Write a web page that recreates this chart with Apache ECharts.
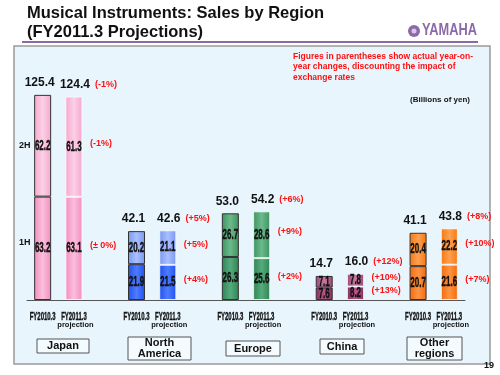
<!DOCTYPE html>
<html>
<head>
<meta charset="utf-8">
<script src="https://cdn.jsdelivr.net/npm/echarts@6/dist/echarts.min.js"></script>
<style>
  html, body { margin: 0; padding: 0; background: #fff; }
  #container { width: 500px; height: 375px; }
</style>
</head>
<body>
<div id="container"></div>
<script>
// categories: 5 regions x (FY2010.3, FY2011.3 projection) with empty gaps between
var categories = ['FY2010.3', 'FY2011.3', '', 'FY2010.3', 'FY2011.3', '', 'FY2010.3', 'FY2011.3', '',
                  'FY2010.3', 'FY2011.3', '', 'FY2010.3', 'FY2011.3'];
var regions = ['Japan', 'North\nAmerica', 'Europe', 'China', 'Other\nregions'];

// billions of yen
var firstHalf  = [63.2, 63.1, '-', 21.9, 21.5, '-', 26.3, 25.6, '-', 7.6, 8.2, '-', 20.7, 21.6];
var secondHalf = [62.2, 61.3, '-', 20.2, 21.1, '-', 26.7, 28.6, '-', 7.1, 7.8, '-', 20.4, 22.2];
var totals     = [125.4, 124.4, '-', 42.1, 42.6, '-', 53.0, 54.2, '-', 14.7, 16.0, '-', 41.1, 43.8];

// year-on-year changes (projection bars only)
var pctTotal = ['', '(-1%)', '', '', '(+5%)', '', '', '(+6%)', '', '', '(+12%)', '', '', '(+8%)'];
var pct2H    = ['', '(-1%)', '', '', '(+5%)', '', '', '(+9%)', '', '', '(+10%)', '', '', '(+10%)'];
var pct1H    = ['', '(\u00b1 0%)', '', '', '(+4%)', '', '', '(+2%)', '', '', '(+13%)', '', '', '(+7%)'];

// colours per region: [1H edge, 1H centre, 2H edge, 2H centre]
var regionColors = [
  ['#f38cc0', '#fbbfdc', '#f6a7cf', '#fcd0e6'],
  ['#2350ee', '#4d7cff', '#7b98f0', '#a9bfff'],
  ['#2f8454', '#55ab7b', '#3f935f', '#6bba8c'],
  ['#8a2f5e', '#b25786', '#a2487a', '#c57aa0'],
  ['#f26a0c', '#ff9442', '#f5780f', '#ffa050']
];

var sans = "'Liberation Sans', Arial, sans-serif";

function grad(c1, c2) {
  return new echarts.graphic.LinearGradient(0, 0, 1, 0, [
    { offset: 0, color: c1 }, { offset: 0.5, color: c2 }, { offset: 1, color: c1 }
  ]);
}

function segData(arr, half) {
  return arr.map(function (v, i) {
    if (v === '-') return '-';
    var c = regionColors[Math.floor(i / 3)];
    var proj = i % 3 === 1;
    return {
      value: v,
      itemStyle: {
        color: half === 1 ? grad(c[0], c[1]) : grad(c[2], c[3]),
        borderColor: proj ? 'rgba(255,255,255,0.7)' : '#333',
        borderWidth: 1
      }
    };
  });
}

var ctx = document.createElement('canvas').getContext('2d');
var totalFont = 'bold 12px ' + sans;
ctx.font = totalFont;

// condensed text, the way the slide draws it
function narrowText(x, y, text, size, sx) {
  return {
    type: 'text', x: x, y: y, scaleX: sx,
    style: { text: text, font: 'bold ' + size + 'px ' + sans, fill: '#111', align: 'center', verticalAlign: 'middle',
             stroke: '#111', lineWidth: 0.4 }
  };
}
function redText(x, y, text) {
  return {
    type: 'text', x: x, y: y,
    style: { text: text, font: 'bold 9px ' + sans, fill: '#ff1010', align: 'left', verticalAlign: 'middle' }
  };
}

function renderLabels(params, api) {
  var i = api.value(0);
  var proj = i % 3 === 1;
  var h1 = firstHalf[i], h2 = secondHalf[i], tot = totals[i];
  var base = api.coord([i, 0]);
  var p1 = api.coord([i, h1 / 2]);
  var p2 = api.coord([i, h1 + h2 / 2]);
  var pt = api.coord([i, tot]);
  var kids = [
    narrowText(p1[0], p1[1], h1.toFixed(1), 14, 0.57),
    narrowText(p2[0], p2[1], h2.toFixed(1), 14, 0.57),
    { type: 'text', x: pt[0] + (proj ? 1 : -3), y: pt[1] - 12,
      style: { text: tot.toFixed(1), font: totalFont, fill: '#111', align: 'center', verticalAlign: 'middle' } },
    narrowText(base[0], base[1] + 17, categories[i], 11.5, 0.52)
  ];
  if (proj) {
    kids.push({ type: 'text', x: base[0] + 1.5, y: base[1] + 25,
      style: { text: 'projection', font: 'bold 7.5px ' + sans, fill: '#111', align: 'center', verticalAlign: 'middle' } });
    var w = ctx.measureText(tot.toFixed(1)).width;
    kids.push(redText(pt[0] + 1 + w / 2 + 5, pt[1] - 12, pctTotal[i]));
    kids.push(redText(p2[0] + 16, p2[1] - 3, pct2H[i]));
    kids.push(redText(p1[0] + 16, p1[1] - 3, pct1H[i]));
  }
  return { type: 'group', children: kids };
}

var dom = document.getElementById('container');
var myChart = echarts.init(dom);

var graphics = [
  // panel
  { type: 'rect', z: -10, shape: { x: 14, y: 46, width: 476, height: 318 },
    style: { fill: '#e8f5fd', stroke: '#9a9a9a', lineWidth: 1.5 } },
  { type: 'text', left: 27, top: 5, style: { text: 'Musical Instruments: Sales by Region', font: 'bold 16.5px ' + sans, fill: '#111' } },
  { type: 'text', left: 27, top: 24, style: { text: '(FY2011.3 Projections)', font: 'bold 16.5px ' + sans, fill: '#111' } },
  { type: 'line', shape: { x1: 22, y1: 42, x2: 478, y2: 42 }, style: { stroke: '#8a6aa3', lineWidth: 2 } },
  { type: 'circle', shape: { cx: 414, cy: 31, r: 6 }, style: { fill: '#8a6aa8' } },
  { type: 'circle', shape: { cx: 414, cy: 31, r: 2.5 }, style: { fill: '#d8c8e4' } },
  { type: 'text', x: 422, y: 23, scaleX: 0.8, style: { text: 'YAMAHA', font: 'bold 16px ' + sans, fill: '#8a6aa8' } },
  { type: 'text', left: 293, top: 51, style: {
      text: 'Figures in parentheses show actual year-on-\nyear changes, discounting the impact of\nexchange rates',
      font: 'bold 8.5px ' + sans, fill: '#ff1010', lineHeight: 10.5 } },
  { type: 'text', left: 410, top: 96, style: { text: '(Billions of yen)', font: 'bold 8px ' + sans, fill: '#111' } },
  { type: 'text', left: 19, top: 141, style: { text: '2H', font: 'bold 9px ' + sans, fill: '#111' } },
  { type: 'text', left: 19, top: 238, style: { text: '1H', font: 'bold 9px ' + sans, fill: '#111' } },
  { type: 'text', left: 484, top: 361, style: { text: '19', font: 'bold 9px ' + sans, fill: '#111' } }
];

// region name boxes
var boxes = [[37, 339, 52, 14], [128, 337, 63, 23], [226, 341, 54, 15], [320, 339, 44, 15], [407, 337, 55, 23]];
regions.forEach(function (r, k) {
  var b = boxes[k];
  graphics.push({ type: 'rect', shape: { x: b[0], y: b[1], width: b[2], height: b[3] },
    style: { fill: '#f4fbff', stroke: '#555', lineWidth: 1 } });
  graphics.push({ type: 'text', x: b[0] + b[2] / 2, y: b[1] + b[3] / 2,
    style: { text: r, font: 'bold 11px ' + sans, fill: '#111', align: 'center', verticalAlign: 'middle', lineHeight: 11 } });
});

option = {
  animation: false,
  grid: { left: 27, right: 35, top: 71, bottom: 75 },
  xAxis: {
    type: 'category',
    data: categories,
    axisLine: { lineStyle: { color: '#555', width: 1 } },
    axisTick: { inside: true, length: 3, lineStyle: { color: '#555' } },
    axisLabel: { show: false }
  },
  yAxis: { type: 'value', min: 0, max: 140, show: false, splitLine: { show: false } },
  graphic: graphics,
  series: [
    { name: '1H', type: 'bar', stack: 'sales', barWidth: 17, data: segData(firstHalf, 1) },
    { name: '2H', type: 'bar', stack: 'sales', barWidth: 17, data: segData(secondHalf, 2) },
    {
      name: 'Labels', type: 'custom', clip: false, z: 5, silent: true,
      renderItem: renderLabels,
      data: totals.map(function (v, i) { return [i, v]; }).filter(function (d) { return d[1] !== '-'; })
    }
  ]
};

if (option && typeof option === 'object') {
  myChart.setOption(option, true);
}
</script>
</body>
</html>
